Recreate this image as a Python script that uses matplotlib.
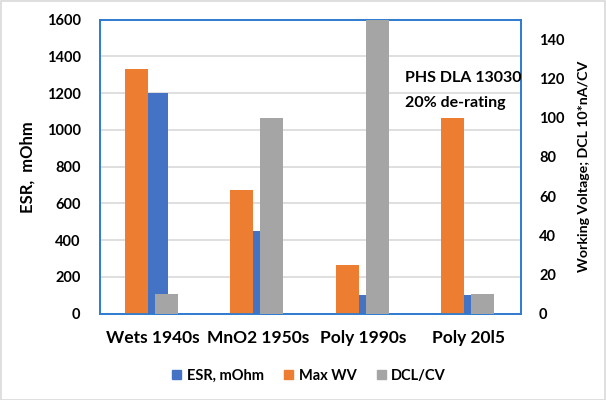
import matplotlib.pyplot as plt
import matplotlib.patches as mpatches
import numpy as np

plt.rcParams['font.family'] = ['Lato', 'DejaVu Sans']

# chart data
categories = ['Wets 1940s', 'MnO2 1950s', 'Poly 1990s', 'Poly 20l5']
esr = [1200, 450, 100, 100]          # left axis, mOhm
max_wv = [125, 63, 25, 100]          # right axis, volts
dcl_cv = [10, 100, 160, 10]          # right axis, 10*nA/CV (1990s clipped at top)

BLUE = '#4472C4'
ORANGE = '#ED7D31'
GRAY = '#A5A5A5'
FRAME = '#2E7BCF'

x = np.arange(len(categories))

fig = plt.figure(figsize=(6.06, 4.0), dpi=100)
ax = fig.add_axes([0.165, 0.2158, 0.6947, 0.735])
ax2 = ax.twinx()

ax.bar(x + 0.051, esr, width=0.19, color=BLUE, label='ESR, mOhm', zorder=2)
ax2.bar(x - 0.152, max_wv, width=0.219, color=ORANGE, label='Max WV', zorder=2)
ax2.bar(x + 0.133, dcl_cv, width=0.219, color=GRAY, label='DCL/CV', zorder=3)

ax.set_xlim(-0.5, len(categories) - 0.5)
ax.set_ylim(0, 1600)
ax.set_yticks(range(0, 1601, 200))
ax2.set_ylim(0, 150)
ax2.set_yticks(range(0, 141, 20))

ax.yaxis.grid(True, color='#D9D9D9', linewidth=1.2, zorder=0)
ax.set_axisbelow(True)

ax.set_xticks(x)
ax.set_xticklabels(categories, fontsize=12.5, fontweight='bold')
ax.tick_params(axis='x', length=0, pad=12)
ax.tick_params(axis='y', length=0, pad=14, labelsize=10.5)
ax2.tick_params(axis='y', length=0, pad=13, labelsize=10.5)
for lbl in ax.get_yticklabels() + ax2.get_yticklabels():
    lbl.set_fontweight('bold')

for a in (ax, ax2):
    for s in a.spines.values():
        s.set_color(FRAME)
        s.set_linewidth(1.2)

ax.set_ylabel('ESR,  mOhm', fontsize=12, fontweight='bold', labelpad=8)
ax2.set_ylabel('Working Voltage; DCL 10*nA/CV', fontsize=10.2, fontweight='bold',
               labelpad=10)

ax2.text(2.40, 124, 'PHS DLA 13030\n20% de-rating', fontsize=11.5,
         fontweight='bold', va='top', ha='left', linespacing=2.0, zorder=5)

handles = [mpatches.Patch(color=BLUE), mpatches.Patch(color=ORANGE),
           mpatches.Patch(color=GRAY)]
fig.legend(handles, ['ESR, mOhm', 'Max WV', 'DCL/CV'], loc='center',
           bbox_to_anchor=(0.51, 0.06), ncol=3, frameon=False,
           handlelength=0.6, handleheight=0.6, handletextpad=0.4,
           columnspacing=1.4, prop={'size': 10.5, 'weight': 'bold'})

fig.patches.append(mpatches.Rectangle((0.001, 0.001), 0.997, 0.997,
                                      transform=fig.transFigure, fill=False,
                                      edgecolor='#D9D9D9', linewidth=1.2))

fig.savefig('out.png', dpi=100)
